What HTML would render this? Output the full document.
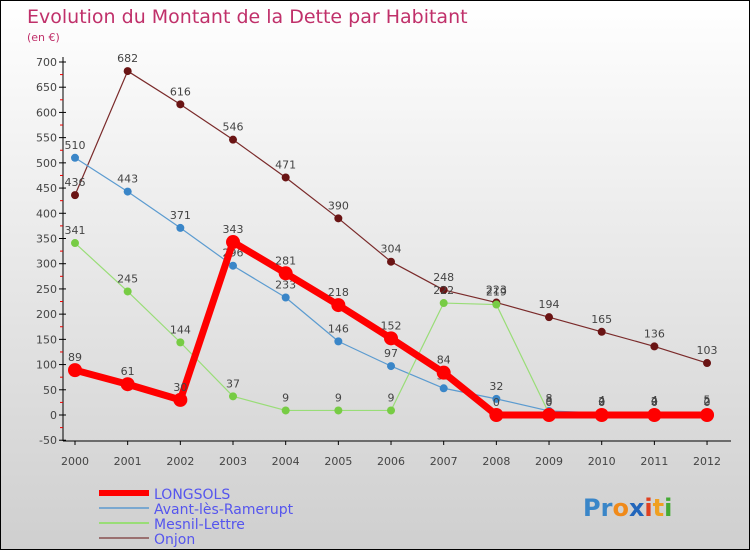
<!DOCTYPE html>
<html><head><meta charset="utf-8"><style>
body{margin:0}
#c{width:750px;height:550px;position:relative;overflow:hidden;background:linear-gradient(#ffffff,#cfcfcf);font-family:"DejaVu Sans","Liberation Sans",sans-serif;box-sizing:border-box;border:1px solid #000;}
</style></head><body>
<div id="c">
<svg id="s" width="750" height="550"></svg>
</div>
<script>
const years=[2000,2001,2002,2003,2004,2005,2006,2007,2008,2009,2010,2011,2012];
const longsols=[89,61,30,343,281,218,152,84,0,0,0,0,0];
const avant=[510,443,371,296,233,146,97,53,32,8,4,4,5];
const mesnil=[341,245,144,37,9,9,9,222,219,3,2,2,2];
const onjon=[436,682,616,546,471,390,304,248,223,194,165,136,103];
const yTicks=[-50,0,50,100,150,200,250,300,350,400,450,500,550,600,650,700];
const NS="http://www.w3.org/2000/svg";
const s=document.getElementById('s');
const X=i=>74+i*52.67;
const Y=v=>414-v*0.5043;
function mk(t,a,p){const e=document.createElementNS(NS,t);for(const k in a)e.setAttribute(k,a[k]);(p||s).appendChild(e);return e;}
let t=mk('text',{x:26,y:22,'font-size':19,fill:'#c0306a'});t.textContent='Evolution du Montant de la Dette par Habitant';

t=mk('text',{x:26,y:40,'font-size':11,fill:'#c0306a'});t.textContent='(en €)';

let ax=mk('line',{x1:62,y1:56,x2:62,y2:440,stroke:'#000'});

ax=mk('line',{x1:62,y1:440,x2:730,y2:440,stroke:'#000'});

yTicks.forEach(v=>{mk('line',{x1:58,y1:Y(v),x2:65,y2:Y(v),stroke:'#000'});
 if(v<700)mk('line',{x1:59,y1:Y(v+25),x2:62,y2:Y(v+25),stroke:'#e00'});
 const l=mk('text',{x:56,y:Y(v)+4,'font-size':11,fill:'#444','text-anchor':'end'});l.textContent=v;
 });
years.forEach((y,i)=>{mk('line',{x1:X(i),y1:440,x2:X(i),y2:444,stroke:'#000'});
 const l=mk('text',{x:X(i),y:464,'font-size':11,fill:'#444','text-anchor':'middle'});l.textContent=y;
 });
function series(d,col,w,r,name,dot){
 const g=mk('g',{});
 mk('polyline',{points:d.map((v,i)=>X(i)+','+Y(v)).join(' '),fill:'none',stroke:col,'stroke-width':w,'stroke-linejoin':'round'},g);
 d.forEach((v,i)=>{const c=mk('circle',{cx:X(i),cy:Y(v),r:r,fill:dot||col},g);
  
  const l=mk('text',{x:X(i),y:Y(v)-9,'font-size':11,fill:'#444','text-anchor':'middle'},g);l.textContent=v;
  });
}
series(onjon,'#7a2a2a',1.2,4,'onjon','#6a1414');
series(avant,'#5b9bd0',1.2,4,'avant','#3a86c8');
series(mesnil,'#99dd77',1.2,4,'mesnil','#77cc44');
series(longsols,'#ff0000',7,7,'longsols');
const leg=[['LONGSOLS','#ff0000',6],['Avant-lès-Ramerupt','#7aa8d0',2],['Mesnil-Lettre','#99dd77',2],['Onjon','#9a7070',2]];
leg.forEach((e,i)=>{const y=492+i*15;
 const g=mk('g',{});
 mk('line',{x1:98,y1:y,x2:148,y2:y,stroke:e[1],'stroke-width':e[2]},g);
 const l=mk('text',{x:153,y:y+6,'font-size':14,fill:'#5555ee'},g);l.textContent=e[0];});
const lg=mk('text',{x:582,y:515,'font-size':24,'font-weight':'bold'});

[['Pr','#3a86c8'],['o','#f08a1a'],['x','#2266bb'],['i','#e04020'],['t','#f0a020'],['i','#44aa33']].forEach(p=>{const ts=mk('tspan',{fill:p[1]},lg);ts.textContent=p[0];});
</script>
</body></html>
